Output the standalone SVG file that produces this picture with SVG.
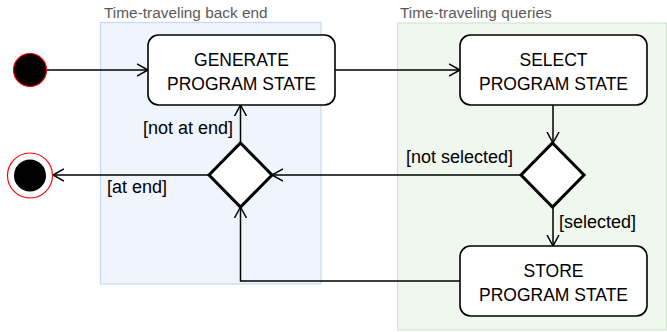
<svg xmlns="http://www.w3.org/2000/svg" width="667" height="332" viewBox="0 0 667 332">
<defs>
<style>
.lane-label{font-family:"Liberation Sans",Arial,sans-serif;font-size:15.4px;fill:#5a5a5a}
.node-text{font-family:"Liberation Sans",Arial,sans-serif;font-size:17.5px;fill:#000;text-anchor:middle}
.edge-label{font-family:"Liberation Sans",Arial,sans-serif;font-size:18px;fill:#000}
.box{fill:#fff;stroke:#000;stroke-width:1.6}
.diamond{fill:#fff;stroke:#000;stroke-width:3}
.conn{fill:none;stroke:#000;stroke-width:1.5}
</style>
<marker id="arrow" markerUnits="userSpaceOnUse" markerWidth="14" markerHeight="16" refX="11" refY="7" orient="auto" viewBox="0 0 14 14">
<path d="M0,1 L11,7 L0,13" fill="none" stroke="#000" stroke-width="1.5"/>
</marker>
</defs>
<g id="lane-backend">
<rect x="100.5" y="22.5" width="220.5" height="261.5" fill="#f0f5fd" stroke="#c8d8ee" stroke-width="1.2"/>
<text class="lane-label" x="104" y="17.5">Time-traveling back end</text>
</g>
<g id="lane-queries">
<rect x="397.5" y="23" width="269" height="307" fill="#f0f7ef" stroke="#d2e6cd" stroke-width="1.2"/>
<text class="lane-label" x="400" y="17.5">Time-traveling queries</text>
</g>
<g id="connectors">
<path class="conn" d="M47,70 L148,70" marker-end="url(#arrow)"/>
<path class="conn" d="M335,70 L460,70" marker-end="url(#arrow)"/>
<path class="conn" d="M553,105 L553,143" marker-end="url(#arrow)"/>
<path class="conn" d="M521,175 L272,175" marker-end="url(#arrow)"/>
<path class="conn" d="M553,207 L553,246" marker-end="url(#arrow)"/>
<path class="conn" d="M460,281 L240.5,281 L240.5,207" marker-end="url(#arrow)"/>
<path class="conn" d="M240.5,143 L240.5,105" marker-end="url(#arrow)"/>
<path class="conn" d="M208,175 L53,175" marker-end="url(#arrow)"/>
<text class="edge-label" x="233" y="134" text-anchor="end">[not at end]</text>
<text class="edge-label" x="107" y="193">[at end]</text>
<text class="edge-label" x="513" y="163" text-anchor="end">[not selected]</text>
<text class="edge-label" x="559" y="228">[selected]</text>
</g>
<g id="start">
<circle cx="30" cy="70" r="16.5" fill="#000" stroke="#ff0000" stroke-width="1.2"/>
</g>
<g id="end">
<circle cx="30" cy="175.5" r="22.5" fill="#fff" stroke="#ff0000" stroke-width="1.2"/>
<circle cx="30" cy="175.5" r="16" fill="#000"/>
</g>
<g id="generate">
<rect class="box" x="148" y="35" width="187" height="70" rx="10.5"/>
<text class="node-text" x="241.5" y="66">GENERATE</text>
<text class="node-text" x="241.5" y="89.5">PROGRAM STATE</text>
</g>
<g id="select">
<rect class="box" x="460" y="35" width="187" height="70" rx="10.5"/>
<text class="node-text" x="553.5" y="66">SELECT</text>
<text class="node-text" x="553.5" y="89.5">PROGRAM STATE</text>
</g>
<g id="store">
<rect class="box" x="460" y="246" width="187" height="70" rx="10.5"/>
<text class="node-text" x="553.5" y="277">STORE</text>
<text class="node-text" x="553.5" y="300.5">PROGRAM STATE</text>
</g>
<g id="decision-end">
<polygon class="diamond" points="240.5,143 272,175 240.5,207 209,175"/>
</g>
<g id="decision-selected">
<polygon class="diamond" points="552.5,143 584,175 552.5,207 521,175"/>
</g>
</svg>
